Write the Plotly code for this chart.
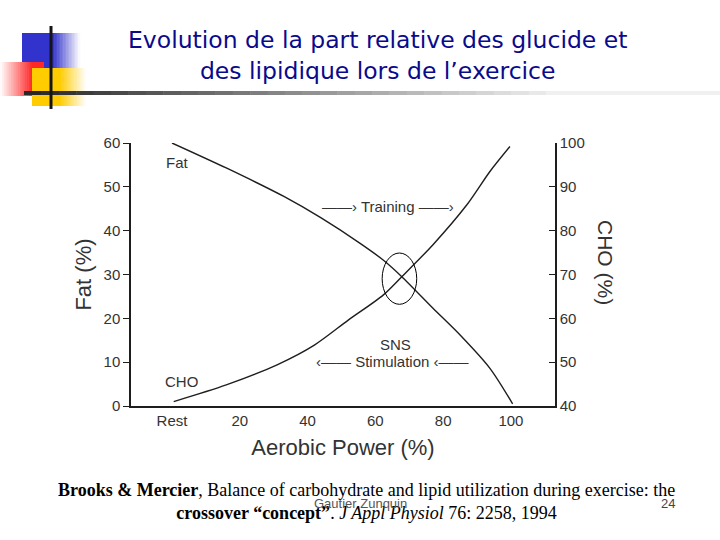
import plotly.graph_objects as go

# Data
power_fat = [0, 16, 33, 44, 55.5, 62.3, 67.8, 77, 85, 93.8, 100.5]
fat_pct = [60, 54.3, 47.8, 42.9, 37.1, 33.3, 29.5, 22.3, 16.2, 8.6, 0.5]
power_cho = [0.5, 16, 31, 42, 52, 62.3, 67.8, 77, 87, 93.8, 99.7]
cho_pct = [41, 44.8, 49.4, 53.9, 59.6, 65.3, 69.5, 76.8, 85.9, 93.5, 99.2]

x_ticks = [0, 20, 40, 60, 80, 100]
x_labels = ["Rest", "20", "40", "60", "80", "100"]
fat_ticks = [0, 10, 20, 30, 40, 50, 60]
cho_ticks = [40, 50, 60, 70, 80, 90, 100]

W, H = 720, 540
ink = "#1e1e1e"
txt = "#333333"
chart_font = "Liberation Sans"


def px(x, y):
    return x / W, 1 - y / H


fig = go.Figure()

fig.add_trace(go.Scatter(x=power_fat, y=fat_pct, mode="lines",
                         line=dict(color=ink, width=1.4, shape="spline", smoothing=0.8),
                         showlegend=False, hoverinfo="x+y"))
fig.add_trace(go.Scatter(x=power_cho, y=cho_pct, mode="lines", yaxis="y2",
                         line=dict(color=ink, width=1.4, shape="spline", smoothing=0.8),
                         showlegend=False, hoverinfo="x+y"))

shapes = []


def paper_rect(x0, x1, y0, y1, color):
    a, b = px(x0, y0), px(x1, y1)
    shapes.append(dict(type="rect", xref="paper", yref="paper", x0=a[0], x1=b[0], y0=b[1], y1=a[1],
                       fillcolor=color, line_width=0, layer="above"))


def grad_rect(x0, x1, y0, y1, rgb, solid_to, fade_left=False, n=18):
    # solid block, then a fade to white (stands in for the slide gradient)
    if fade_left:
        paper_rect(solid_to, x1, y0, y1, "rgb(%d,%d,%d)" % rgb)
        start, end = solid_to, x0
    else:
        paper_rect(x0, solid_to, y0, y1, "rgb(%d,%d,%d)" % rgb)
        start, end = solid_to, x1
    for i in range(n):
        t0 = start + (end - start) * i / n
        t1 = start + (end - start) * (i + 1) / n
        f = (i + 0.5) / n
        c = tuple(int(v + (255 - v) * f) for v in rgb)
        paper_rect(min(t0, t1) - 0.3, max(t0, t1) + 0.3, y0, y1, "rgb(%d,%d,%d)" % c)


grad_rect(22, 80, 33, 68, (50, 50, 205), 53)
grad_rect(0, 44, 62, 96, (255, 40, 40), 32, fade_left=True)
grad_rect(32, 86, 68, 106, (255, 204, 0), 60)

# rule under the title, black fading to light grey
n = 40
for i in range(n):
    x0 = 24 + (720 - 24) * i / n
    x1 = 24 + (720 - 24) * (i + 1) / n
    g = int(40 + (240 - 40) * min(1, i / (n * 0.75)))
    paper_rect(x0, x1 + 0.5, 91, 95, "rgb(%d,%d,%d)" % (g, g, g))
paper_rect(49.5, 52.5, 26, 109, "#151515")

# crossover ellipse
shapes.append(dict(type="circle", xref="x", yref="y", x0=62.0, x1=72.2, y0=23.2, y1=34.9,
                   line=dict(color="black", width=1)))

ann = []
pa = dict(xref="paper", yref="paper", showarrow=False, xanchor="center", yanchor="middle")
ann.append(dict(pa, x=377 / W, y=px(0, 55)[1],
                text="Evolution de la part relative des glucide et<br>des lipidique lors de l’exercice",
                font=dict(family="DejaVu Sans", size=23.5, color="#0a0a8c"), align="center"))
lab = dict(showarrow=False, xref="x", yref="y", yanchor="middle", font=dict(family=chart_font, size=15, color=txt))
ann.append(dict(lab, x=-2.5, y=55.5, text="Fat", xanchor="left"))
ann.append(dict(lab, x=-2.8, y=5.7, text="CHO", xanchor="left"))
small = dict(family=chart_font, size=15, color=txt)
ann.append(dict(lab, x=63.7, y=45.5, text="——› Training ——›", font=small, xanchor="center"))
ann.append(dict(lab, x=65.8, y=14.0, text="SNS", font=small, xanchor="center"))
ann.append(dict(lab, x=65.2, y=10.1, text="‹—— Stimulation ‹——", font=small, xanchor="center"))
ann.append(dict(pa, x=606 / W, y=px(0, 262)[1], text="CHO (%)", textangle=90,
                font=dict(family=chart_font, size=21, color=txt)))
ann.append(dict(pa, x=366 / W, y=px(0, 501)[1],
                text="<b>Brooks &amp; Mercier</b>, Balance of carbohydrate and lipid utilization during exercise: the<br>"
                     "<b>crossover “concept”</b>. <i>J Appl Physiol</i> 76: 2258, 1994",
                font=dict(family="Liberation Serif", size=18, color="black"), align="center"))
ann.append(dict(pa, x=360 / W, y=px(0, 503)[1], text="Gautier Zunquin",
                font=dict(family="Liberation Sans", size=13, color="#555")))
ann.append(dict(pa, x=668 / W, y=px(0, 503)[1], text="24",
                font=dict(family="Liberation Sans", size=13, color="#444")))

x_dom = [131 / W, 555 / W]
y_dom = [1 - 406 / H, 1 - 143 / H]

fig.update_layout(
    width=W, height=H,
    margin=dict(l=0, r=0, t=0, b=0, autoexpand=False),
    plot_bgcolor="white", paper_bgcolor="white",
    shapes=shapes, annotations=ann,
    xaxis=dict(domain=x_dom, range=[-12.1, 113], tickvals=x_ticks, ticktext=x_labels, showgrid=False,
               zeroline=False, showline=True, linecolor=ink, linewidth=1.5, ticks="", automargin=False,
               tickfont=dict(family=chart_font, size=15, color=txt),
               title=dict(text="Aerobic Power (%)", font=dict(family=chart_font, size=22, color=txt), standoff=12)),
    yaxis=dict(domain=y_dom, range=[0, 60], tickvals=fat_ticks, showgrid=False, zeroline=False, automargin=False,
               showline=True, linecolor=ink, linewidth=1.5, ticks="outside", ticklen=6, tickcolor=ink,
               tickfont=dict(family=chart_font, size=15, color=txt),
               title=dict(text="Fat (%)", font=dict(family=chart_font, size=22, color=txt), standoff=6)),
    yaxis2=dict(overlaying="y", side="right", anchor="x", range=[40, 100], tickvals=cho_ticks, showgrid=False,
                zeroline=False, showline=True, linecolor=ink, linewidth=1.5, ticks="inside", ticklen=6,
                automargin=False, tickcolor=ink, tickfont=dict(family=chart_font, size=15, color=txt)),
)

fig.write_html("out.html", config={"displayModeBar": False},
               post_script="document.body.style.margin='0';")
